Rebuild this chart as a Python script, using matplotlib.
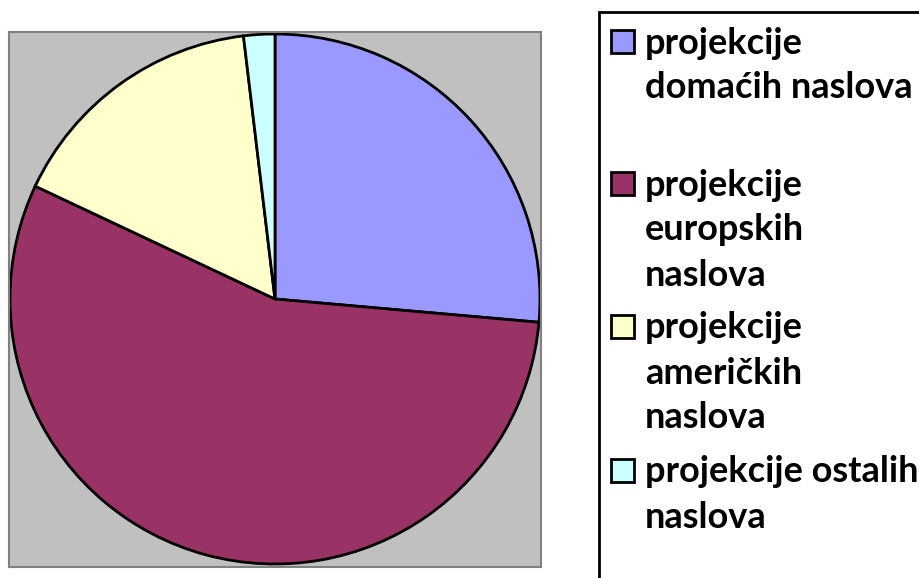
import matplotlib
matplotlib.use("Agg")
import matplotlib.pyplot as plt
from matplotlib.patches import Rectangle

# ---- data ----
categories = [
    "projekcije domaćih naslova",
    "projekcije europskih naslova",
    "projekcije američkih naslova",
    "projekcije ostalih naslova",
]
legend_lines = [
    ["projekcije", "domaćih naslova"],
    ["projekcije", "europskih", "naslova"],
    ["projekcije", "američkih", "naslova"],
    ["projekcije ostalih", "naslova"],
]
values = [26.4, 55.6, 16.1, 1.9]
colors = ["#9999FF", "#993366", "#FFFFCC", "#CCFFFF"]

W, H = 919, 578
fig = plt.figure(figsize=(W / 100, H / 100), dpi=100)
fig.patch.set_facecolor("white")

# pie plot area (pixel geometry)
bx0, bx1, by0, by1 = 9, 541, 32, 567
cx, cy, R = 275, 299, 265
ax = fig.add_axes([bx0 / W, 1 - by1 / H, (bx1 - bx0) / W, (by1 - by0) / H])
ax.pie(values, colors=colors, startangle=90, counterclock=False,
       wedgeprops=dict(edgecolor="black", linewidth=2.0))
ax.set_frame_on(True)
ax.set_facecolor("#C0C0C0")
for s in ax.spines.values():
    s.set_edgecolor("#808080")
    s.set_linewidth(1.5)
ax.set_aspect("auto")
ax.set_xlim(-(cx - bx0) / R, (bx1 - cx) / R)
ax.set_ylim(-(by1 - cy) / R, (cy - by0) / R)
ax.set_xticks([])
ax.set_yticks([])

# legend overlay in pixel coordinates
lax = fig.add_axes([0, 0, 1, 1])
lax.set_xlim(0, W)
lax.set_ylim(H, 0)
lax.axis("off")
lax.add_patch(Rectangle((599, 12), 400, 700, facecolor="white",
                        edgecolor="black", linewidth=2, clip_on=False))
first_y = [43, 185, 328, 472]
line_h = 45
for lines, col, y0 in zip(legend_lines, colors, first_y):
    lax.add_patch(Rectangle((611, y0 - 13), 23, 23, facecolor=col,
                            edgecolor="black", linewidth=2))
    for i, t in enumerate(lines):
        lax.text(645, y0 + i * line_h, t, fontsize=26, fontweight="bold",
                 family="Lato", va="center", ha="left", color="black")

fig.savefig("out.png", dpi=100)
